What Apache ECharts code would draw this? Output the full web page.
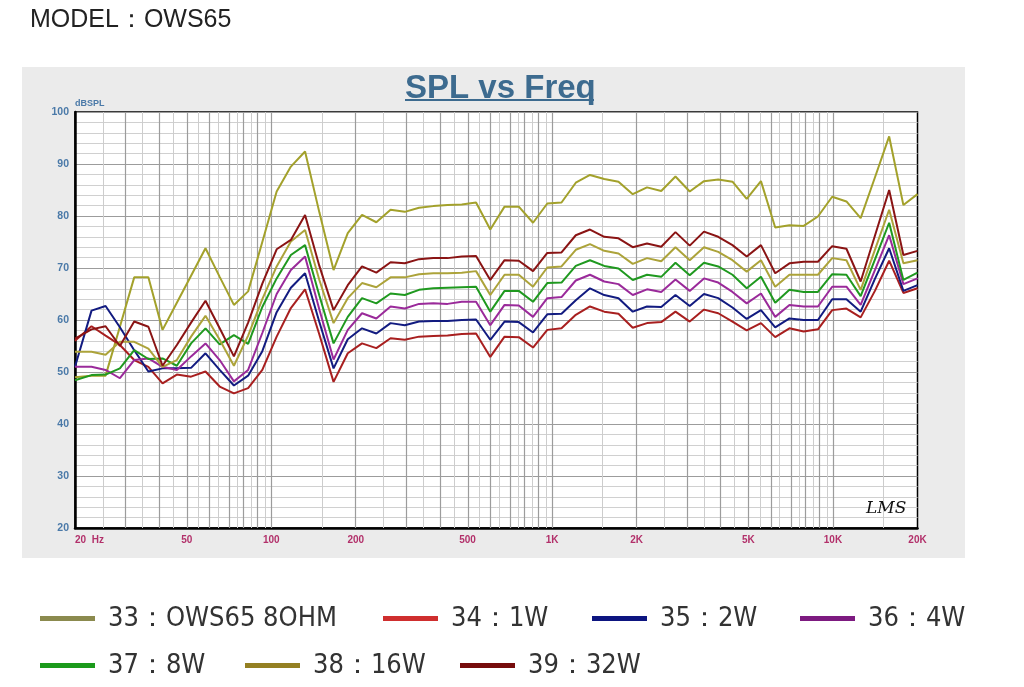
<!DOCTYPE html>
<html lang="en">
<head>
<meta charset="UTF-8">
<title>SPL vs Freq</title>
<script src="https://cdn.jsdelivr.net/npm/echarts@6/dist/echarts.min.js"></script>
<style>
  * {margin: 0; padding: 0;}
  body {background: #fff;}
  #main {width: 1024px; height: 687px;}
</style>
</head>
<body>
<div id="main"></div>
<script>
// measurement frequencies (Hz), roughly 1/6 octave
const freqs = [20, 22.9, 25.7, 28.9, 32.5, 36.5, 41, 46.1, 51.8, 58.3,
  65.5, 73.6, 82.7, 92.9, 104.5, 117.4, 131.9, 148.3, 166.6, 187.2,
  210.4, 236.6, 265.9, 298.8, 335.8, 377.5, 424.3, 476.8, 535.9, 602.3,
  677, 760.9, 855.1, 961.1, 1080, 1214, 1364, 1533, 1723, 1937,
  2177, 2446, 2749, 3090, 3473, 3903, 4387, 4930, 5541, 6228,
  6999, 7866, 8841, 9936, 11167, 12550, 14105, 15853, 17817, 20000];

const spl33 = [49.0, 49.3, 49.3, 58.7, 68.2, 68.2, 58.1, 63.3, 68.5, 73.8,
  68.3, 62.9, 65.5, 75.0, 84.7, 89.5, 92.4, 80.7, 69.6, 76.7,
  80.2, 78.8, 81.2, 80.8, 81.6, 81.9, 82.1, 82.2, 82.6, 77.4,
  81.8, 81.8, 78.7, 82.4, 82.6, 86.4, 87.9, 87.1, 86.6, 84.2,
  85.5, 84.8, 87.6, 84.7, 86.7, 87.0, 86.6, 83.3, 86.7, 77.8,
  78.2, 78.1, 79.9, 83.7, 82.8, 79.6, 87.4, 95.3, 82.1, 84.2];

const spl34 = [56.0, 58.8, 57.0, 55.2, 52.3, 51.0, 47.8, 49.5, 49.1, 50.1,
  47.2, 45.9, 46.9, 50.4, 56.8, 62.3, 65.9, 57.2, 48.1, 53.6,
  55.5, 54.6, 56.5, 56.2, 56.8, 56.9, 57.0, 57.3, 57.4, 52.9,
  56.8, 56.7, 54.7, 58.1, 58.4, 61.0, 62.6, 61.6, 61.2, 58.5,
  59.4, 59.6, 61.6, 59.7, 62.0, 61.3, 59.7, 58.0, 59.4, 56.7,
  58.4, 57.8, 58.2, 61.9, 62.2, 60.5, 65.6, 71.4, 65.2, 66.1];

const spl35 = [51.0, 61.8, 62.7, 58.6, 54.2, 50.1, 50.7, 50.7, 50.8, 53.6,
  50.4, 47.4, 49.3, 54.0, 61.5, 66.2, 69.0, 59.6, 50.7, 56.3,
  58.4, 57.4, 59.4, 59.0, 59.7, 59.8, 59.8, 60.0, 60.1, 56.2,
  59.7, 59.6, 57.6, 61.1, 61.2, 63.8, 66.1, 64.8, 64.2, 61.6,
  62.6, 62.5, 64.8, 62.7, 65.0, 64.2, 62.4, 60.2, 61.9, 58.6,
  60.3, 60.0, 60.0, 64.0, 64.0, 61.6, 67.9, 73.8, 65.6, 66.7];

const spl36 = [51.0, 51.0, 50.4, 48.8, 52.3, 52.6, 51.0, 50.4, 53.0, 55.5,
  52.3, 48.2, 50.4, 57.5, 65.0, 69.6, 72.2, 62.0, 52.4, 58.1,
  61.3, 60.3, 62.6, 62.2, 63.1, 63.2, 63.1, 63.5, 63.5, 59.0,
  62.9, 62.8, 60.6, 64.2, 64.4, 67.6, 68.7, 67.4, 66.9, 64.8,
  65.9, 65.4, 67.8, 65.6, 68.0, 67.2, 65.4, 63.2, 65.1, 60.6,
  62.9, 62.6, 62.6, 66.4, 66.4, 62.9, 69.6, 76.3, 66.9, 68.0];

const spl37 = [48.4, 49.4, 49.5, 50.7, 54.2, 52.5, 52.6, 51.2, 55.5, 58.4,
  55.3, 57.1, 55.4, 62.5, 68.0, 72.5, 74.4, 64.7, 55.5, 60.6,
  64.2, 63.2, 65.1, 64.8, 65.8, 66.1, 66.2, 66.3, 66.4, 61.6,
  65.6, 65.6, 63.5, 67.1, 67.2, 70.4, 71.5, 70.4, 69.9, 67.7,
  68.7, 68.3, 71.0, 68.6, 71.0, 70.3, 68.7, 66.1, 68.3, 63.3,
  65.8, 65.4, 65.4, 68.8, 68.7, 64.6, 71.6, 78.7, 67.7, 69.1];

const spl38 = [53.9, 53.9, 53.3, 55.8, 55.8, 54.5, 51.0, 52.3, 56.8, 60.8,
  56.2, 51.2, 57.0, 64.0, 70.3, 75.1, 77.3, 67.7, 59.4, 64.2,
  67.1, 66.3, 68.2, 68.2, 68.8, 69.0, 69.0, 69.1, 69.4, 64.8,
  68.7, 68.7, 66.4, 70.1, 70.3, 73.5, 74.6, 73.3, 72.8, 70.8,
  71.9, 71.3, 74.0, 71.5, 74.0, 73.1, 71.5, 69.3, 71.5, 66.4,
  68.7, 68.7, 68.7, 71.9, 71.5, 65.8, 73.5, 81.2, 70.9, 71.5];

const spl39 = [56.4, 58.2, 58.8, 55.0, 59.7, 58.7, 51.2, 55.2, 59.5, 63.7,
  58.4, 53.0, 59.5, 67.0, 73.6, 75.4, 80.2, 70.4, 61.9, 66.7,
  70.3, 69.1, 71.1, 70.9, 71.7, 71.9, 71.9, 72.2, 72.3, 67.7,
  71.5, 71.4, 69.4, 72.9, 73.0, 76.3, 77.4, 76.0, 75.7, 74.0,
  74.7, 74.1, 76.9, 74.3, 77.0, 76.0, 74.4, 72.2, 74.4, 69.0,
  70.9, 71.2, 71.2, 74.2, 73.7, 67.4, 76.2, 85.0, 72.5, 73.3];

const xLabelFreqs = [20, 50, 100, 200, 500, 1000, 2000, 5000, 10000, 20000];
const xLabelTexts = ['20  Hz', '50', '100', '200', '500', '1K', '2K', '5K', '10K', '20K'];

const majorGridFreqs = [30, 40, 50, 60, 70, 80, 90, 100, 200, 300, 400, 500, 600, 700, 800, 900,
  1000, 2000, 3000, 4000, 5000, 6000, 7000, 8000, 9000, 10000];
const minorGridFreqs = [25, 35, 45, 55, 65, 75, 85, 95, 150, 250, 350, 450, 550, 650, 750, 850, 950,
  1500, 2500, 3500, 4500, 5500, 6500, 7500, 8500, 9500, 15000];

const curves = [
  {name: '33：OWS65 8OHM', values: spl33, color: '#a3a12b', key: '#8b8a4e', left: 35, top: 600},
  {name: '34：1W', values: spl34, color: '#a81f1f', key: '#cf2e2e', left: 378, top: 600},
  {name: '35：2W', values: spl35, color: '#121b80', key: '#0d1580', left: 587, top: 600},
  {name: '36：4W', values: spl36, color: '#9a2a9a', key: '#7d1a80', left: 795, top: 600},
  {name: '37：8W', values: spl37, color: '#1f991f', key: '#1b9a1b', left: 35, top: 647},
  {name: '38：16W', values: spl38, color: '#aca33a', key: '#948022', left: 240, top: 647},
  {name: '39：32W', values: spl39, color: '#8a1414', key: '#760c0c', left: 455, top: 647}
];

const lg = v => Math.log10(v);
const legendFont = "'Liberation Sans Narrow', 'DejaVu Sans Condensed', 'Liberation Sans', sans-serif";

const chart = echarts.init(document.getElementById('main'));

const gridLines = minorGridFreqs.map(f => ({xAxis: lg(f), lineStyle: {color: '#cdcdcd', width: 1, type: 'solid'}}))
  .concat(majorGridFreqs.map(f => ({xAxis: lg(f), lineStyle: {color: '#9c9c9c', width: 1.2, type: 'solid'}})));

chart.setOption({
  animation: false,
  backgroundColor: '#fff',
  title: {
    text: 'SPL vs Freq',
    left: 400,
    top: 67,
    textStyle: {fontSize: 33, fontWeight: 'bold', color: '#3d6b8f', fontFamily: 'Liberation Sans'}
  },
  graphic: [
    {type: 'rect', z: -10, shape: {x: 22, y: 67, width: 943, height: 491}, style: {fill: '#ebebeb'}},
    {type: 'line', shape: {x1: 405, y1: 100, x2: 594, y2: 100}, style: {stroke: '#3d6b8f', lineWidth: 2}},
    {type: 'text', left: 30, top: 8, style: {text: 'MODEL：OWS65', font: "25px 'Liberation Sans'", fill: '#222'}},
    {type: 'text', left: 75, top: 99, style: {text: 'dBSPL', font: "bold 9px 'Liberation Sans'", fill: '#4a79a8'}},
    {type: 'text', left: 866, top: 500, z: 10, style: {text: 'LMS', font: "italic 17px 'DejaVu Serif'", fill: '#111'}}
  ],
  legend: curves.map(c => ({
    data: [{name: c.name, itemStyle: {color: c.key}}],
    left: c.left,
    top: c.top,
    icon: 'rect',
    itemWidth: 55,
    itemHeight: 5,
    selectedMode: false,
    textStyle: {fontSize: 27, color: '#333', fontFamily: legendFont, padding: [0, 0, 0, 8]}
  })),
  grid: {
    left: 75, right: 106.5, top: 112, bottom: 159,
    show: true, backgroundColor: '#fff', borderColor: '#000', borderWidth: 1.5
  },
  xAxis: {
    type: 'value',
    min: lg(20),
    max: lg(20000),
    axisLine: {show: true, onZero: false, lineStyle: {color: '#000', width: 2.5}},
    axisTick: {show: false},
    splitLine: {show: false},
    axisLabel: {
      customValues: xLabelFreqs.map(lg),
      alignMinLabel: 'left',
      margin: 7,
      color: '#b2306a',
      fontSize: 10,
      fontWeight: 'bold',
      fontFamily: 'Liberation Sans',
      formatter: function (v) {
        let best = 0;
        xLabelFreqs.forEach((f, i) => {
          if (Math.abs(lg(f) - v) < Math.abs(lg(xLabelFreqs[best]) - v)) best = i;
        });
        return xLabelTexts[best];
      }
    }
  },
  yAxis: {
    type: 'value',
    min: 20,
    max: 100,
    interval: 10,
    axisLine: {show: true, lineStyle: {color: '#000', width: 2.5}},
    axisTick: {show: false},
    minorTick: {show: false, splitNumber: 5},
    splitLine: {lineStyle: {color: '#9c9c9c', width: 1.2}},
    minorSplitLine: {show: true, lineStyle: {color: '#d0d0d0', width: 1}},
    axisLabel: {color: '#4a79a8', fontSize: 10.5, fontWeight: 'bold', fontFamily: 'Liberation Sans', margin: 6}
  },
  series: [{
    type: 'line',
    data: [],
    silent: true,
    z: 1,
    markLine: {silent: true, symbol: 'none', animation: false, label: {show: false},
      emphasis: {disabled: true}, lineStyle: {type: 'solid'}, data: gridLines}
  }].concat(curves.map(c => ({
    name: c.name,
    type: 'line',
    z: 5,
    symbol: 'none',
    silent: true,
    data: freqs.map((f, i) => [lg(f), c.values[i]]),
    lineStyle: {color: c.color, width: 2},
    itemStyle: {color: c.key}
  })))
});
</script>
</body>
</html>
